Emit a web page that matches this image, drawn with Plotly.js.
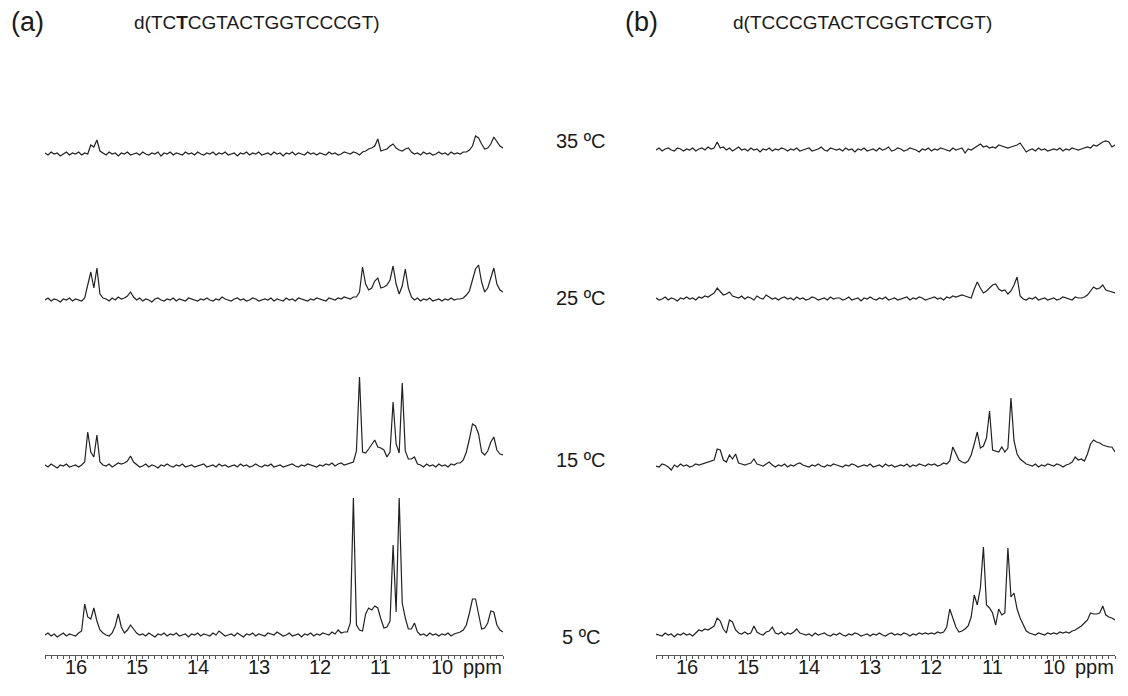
<!DOCTYPE html>
<html>
<head>
<meta charset="utf-8">
<script src="https://cdn.plot.ly/plotly-3.0.1.min.js"></script>
<style>html,body{margin:0;padding:0;background:#fff;}#chart{width:1128px;height:696px;}</style>
</head>
<body>
<div id="chart"></div>
<script>
// ---- data (intensity above each spectrum's baseline) ----
// chemical-shift sampling: 16.50 ppm down to 9.00 ppm every 0.05 ppm (151 points)
const ppmFirst = 16.5, ppmStep = 0.05, nPoints = 151;
const ppm = Array.from({length: nPoints}, (_, i) => +(ppmFirst - ppmStep * i).toFixed(2));

const temperatures = ['35 ºC', '25 ºC', '15 ºC', '5 ºC'];
const tickPpm = [16, 15, 14, 13, 12, 11, 10];
const tickLabels = ['16', '15', '14', '13', '12', '11', '10'];
const unitLabel = 'ppm';
const seqA = 'd(TC<b>T</b>CGTACTGGTCCCGT)';
const seqB = 'd(TCCCGTACTCGGTC<b>T</b>CGT)';

// panel (a)
const a35 = [1,-1,2,0,1,-2,0,2,-1,1, 0,2,-1,1,0,9,7,14,3,1, -1,2,0,1,-2,1,0,2,-1,0, 1,-1,2,0,-1,1,0,2,-2,1,
  0,2,-1,1,0,-1,2,0,1,-1, 2,0,-1,1,0,2,-1,1,0,2, -1,0,1,-2,1,0,2,-1,1,0, 2,-1,0,1,-1,2,0,1,-2,1,
  0,2,-1,1,0,-1,2,0,1,-1, 1,0,-1,2,0,1,-1,0,2,1, 0,2,1,-1,2,3,5,6,8,15, 3,4,5,8,10,6,4,3,5,6,
  2,0,1,-1,2,0,1,-1,0,2, 0,1,-1,2,0,1,0,2,2,4, 8,18,16,10,5,6,10,17,12,8, 6];
const a25 = [0,2,-1,1,0,-2,1,0,2,-1, 1,0,-1,2,16,28,12,32,6,2, 1,-1,2,0,3,1,2,4,8,3, 0,2,-1,1,0,-2,1,2,0,-1,
  1,0,2,-1,1,0,-1,2,1,0, -1,1,0,2,0,-1,1,0,3,1, 0,-1,1,2,0,1,-1,0,2,1, -1,0,1,0,2,-1,1,0,-1,2,
  0,1,-1,2,1,0,-1,1,0,2, 1,0,-1,2,1,0,2,1,3,2, 1,3,3,8,33,16,10,12,19,22, 12,13,15,20,34,16,6,14,31,12,
  3,0,2,-1,1,0,2,-1,0,1, -1,1,0,2,0,1,1,2,5,9, 20,31,35,18,8,12,22,32,16,10, 8];
const a15 = [1,-1,2,0,-2,1,0,2,-1,0, 1,-1,1,4,34,14,9,31,4,1, 0,2,-1,1,3,2,3,5,10,4, 1,-1,0,2,-1,1,0,-2,1,0,
  2,0,-1,1,0,2,-1,0,1,-1, 0,1,2,-1,0,1,-1,2,0,1, -1,0,1,-1,2,0,1,-1,0,2, 0,-1,1,0,2,-1,0,1,-1,0,
  1,2,0,-1,1,0,2,1,0,-1, 1,0,2,1,3,0,2,3,1,2, 3,4,15,89,14,13,17,22,26,19, 18,16,9,14,64,22,13,83,15,7,
  7,9,2,1,-1,2,0,1,-1,2, 0,1,-1,2,1,3,3,6,14,27, 42,40,32,14,11,15,24,29,16,12, 11];
const a5 = [0,2,-1,1,-2,0,2,-1,1,0, -1,2,4,31,18,16,27,14,5,2, 0,-1,2,9,21,8,2,5,10,6, 2,0,1,-1,2,0,-2,1,0,2,
  -1,1,0,2,-1,0,1,-2,1,0, 2,-1,1,0,-1,2,0,4,1,-1, 0,1,-1,2,0,-2,1,0,2,-1, 1,0,-1,2,1,0,3,1,-1,0,
  2,-1,0,1,-2,1,0,2,-1,1, 0,2,1,0,3,1,5,2,3,3, 12,137,10,5,4,21,27,25,29,27, 16,7,8,14,90,23,137,32,17,6,
  6,12,3,0,1,-1,2,0,1,-1, 1,0,2,-1,1,2,3,5,10,22, 36,36,20,6,7,12,24,23,10,5, 3];

// panel (b)
const b35 = [0,2,-1,1,2,0,-1,2,1,-1, 1,0,2,-1,1,2,0,3,1,2, 8,2,3,0,2,-1,1,3,0,1, -1,2,0,1,-2,1,0,2,-1,1,
  0,2,1,-1,1,0,2,-1,0,1, 2,-1,0,1,3,0,-1,2,1,0, 1,-1,2,0,1,-2,1,0,2,-1, 0,1,-1,2,0,1,3,-1,0,2,
  1,-1,0,2,1,0,-2,1,0,2, -1,1,0,2,1,0,-1,2,0,1, 2,-3,1,0,2,4,6,3,4,2, 3,2,5,4,3,2,3,4,5,7,
  3,-2,0,1,-1,2,0,1,-1,0, 1,0,2,-1,1,0,2,1,0,1, 2,3,2,5,4,6,8,9,8,3, 5];
const b25 = [1,-1,0,2,-1,1,0,-2,1,0, 2,0,1,-1,2,1,3,2,4,6, 11,7,4,5,7,3,2,1,3,0, 2,1,-1,3,1,0,4,2,0,1,
  -1,1,2,0,1,-1,2,0,1,-1, 0,2,1,-1,0,1,-1,2,0,1, 1,-1,0,2,-1,0,1,-2,1,0, 2,0,-1,1,0,2,-1,0,1,-1,
  0,1,2,-1,1,0,2,1,-1,0, 1,2,0,1,-1,2,1,3,2,3, 4,3,2,1,10,17,11,6,8,11, 14,15,10,8,9,5,8,14,22,3,
  0,-1,1,0,2,-1,0,1,-1,0, 1,-1,0,2,1,0,-1,2,1,1, 2,4,8,12,10,11,14,9,8,7, 6];
const b15 = [0,-1,2,1,-1,-4,1,-1,2,0, 1,-1,0,2,1,2,3,4,5,6, 17,16,6,4,11,7,12,3,2,1, 2,3,7,2,1,0,2,4,1,-1,
  1,0,2,-1,1,0,2,3,1,0, -1,1,0,2,0,-1,1,0,2,1, 0,-1,1,0,2,1,-1,0,1,0, 2,-1,0,1,-1,2,0,1,-1,0,
  1,0,2,-1,1,0,2,1,0,2, 1,2,0,1,3,2,5,19,12,6, 4,3,5,11,22,34,18,20,28,55, 16,15,14,19,14,18,68,25,12,7,
  4,2,1,0,2,-1,1,0,2,1, 0,2,1,-1,1,2,4,9,6,7, 5,12,22,26,24,23,21,20,19,19, 14];
const b5 = [1,0,-1,2,0,1,-2,1,0,2, 0,1,-1,2,5,4,6,5,7,9, 17,14,6,2,15,13,5,2,1,3, 1,2,9,3,1,0,3,4,8,2,
  1,3,0,2,1,3,6,2,1,0, 1,-1,2,0,1,2,0,-1,1,0, 2,0,-1,1,0,2,1,-1,0,1, -1,1,0,2,0,-1,1,2,0,1,
  0,2,1,-1,1,0,2,1,2,1, 2,1,3,2,3,8,26,18,8,3, 4,6,9,18,40,30,47,88,30,27, 22,10,26,20,22,87,38,42,26,17,
  10,4,2,1,0,2,1,0,2,1, 2,1,3,2,3,2,4,5,7,9, 12,15,22,21,21,22,29,20,18,17, 15];

// ---- layout geometry (pixels) ----
const W = 1128, H = 696, TOP = 60, BOT = 655;
const offsetsA = [501, 355, 189, 20];   // vertical stacking of the spectra
const offsetsB = [505, 356, 189, 20];
const FONT = 'Liberation Sans, Arial, Helvetica, sans-serif';
const LINE = '#222222', AXIS = '#555555', TEXT = '#1a1a1a';
const px2x = x => x / W;
const px2y = y => (BOT - y) / (BOT - TOP);

const seriesA = [a35, a25, a15, a5];
const seriesB = [b35, b25, b15, b5];
const traces = [];
seriesA.forEach((s, k) => traces.push({x: ppm, y: s.map(v => v + offsetsA[k]), xaxis: 'x', yaxis: 'y',
  mode: 'lines', line: {color: LINE, width: 1.2}, hoverinfo: 'skip', name: '(a) ' + temperatures[k]}));
seriesB.forEach((s, k) => traces.push({x: ppm, y: s.map(v => v + offsetsB[k]), xaxis: 'x2', yaxis: 'y2',
  mode: 'lines', line: {color: LINE, width: 1.2}, hoverinfo: 'skip', name: '(b) ' + temperatures[k]}));

function xAxis(domain, anchor) {
  return {domain: domain, anchor: anchor, range: [16.5, 9.0], autorange: false,
    tickmode: 'array', tickvals: tickPpm, ticktext: tickLabels, showticklabels: false,
    ticks: 'outside', ticklen: 5, tickwidth: 1, tickcolor: AXIS,
    showline: true, linecolor: AXIS, linewidth: 1, showgrid: false, zeroline: false,
    minor: {tickmode: 'linear', tick0: 9, dtick: 0.1, ticks: 'outside', ticklen: 3, tickwidth: 1, tickcolor: AXIS, showgrid: false},
    fixedrange: true};
}
function yAxis(anchor) {
  return {domain: [0, 1], anchor: anchor, range: [0, BOT - TOP], autorange: false, visible: false, fixedrange: true};
}

const ann = [];
function addText(text, x, y, size, xanchor) {
  ann.push({text: text, x: px2x(x), y: px2y(y), xref: 'paper', yref: 'paper', showarrow: false,
    xanchor: xanchor || 'center', yanchor: 'middle', font: {family: FONT, size: size, color: TEXT}});
}
addText('(a)', 27, 22, 27);
addText(seqA, 257, 22, 19);
addText('(b)', 641, 22, 27);
addText(seqB, 862, 22, 19);
const tempY = [141, 298, 460, 637];
temperatures.forEach((t, k) => addText(t, 581, tempY[k], 20));

// tick labels placed through each panel's x scale
const TICK_Y = 667, TICK_SIZE = 20;
['x', 'x2'].forEach(ax => {
  tickPpm.forEach((p, k) => ann.push({text: tickLabels[k], x: p, xref: ax, y: px2y(TICK_Y), yref: 'paper',
    showarrow: false, xanchor: 'center', yanchor: 'middle', font: {family: FONT, size: TICK_SIZE, color: TEXT}}));
  ann.push({text: unitLabel, x: 9.68, xref: ax, y: px2y(TICK_Y), yref: 'paper', showarrow: false,
    xanchor: 'left', yanchor: 'middle', font: {family: FONT, size: TICK_SIZE, color: TEXT}});
});

const layout = {
  width: W, height: H, margin: {l: 0, r: 0, t: TOP, b: H - BOT, pad: 0},
  paper_bgcolor: '#ffffff', plot_bgcolor: '#ffffff', showlegend: false,
  font: {family: FONT, color: TEXT},
  xaxis: xAxis([45 / W, 503 / W], 'y'), yaxis: yAxis('x'),
  xaxis2: xAxis([656 / W, 1115 / W], 'y2'), yaxis2: yAxis('x2'),
  annotations: ann
};
Plotly.newPlot('chart', traces, layout, {displayModeBar: false, staticPlot: true});
</script>
</body>
</html>
